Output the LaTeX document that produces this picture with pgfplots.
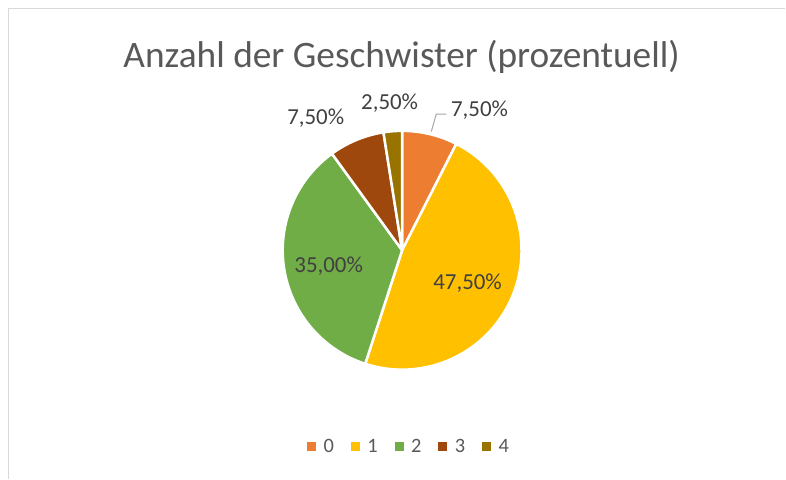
\documentclass[border=0pt]{standalone}
\usepackage{pgfplots}
\pgfplotsset{compat=1.18}
\usepackage{pgfplotstable}
\usepackage{fontspec}
\setmainfont{Carlito}
\definecolor{c0}{HTML}{ED7D31}
\definecolor{c1}{HTML}{FFC000}
\definecolor{c2}{HTML}{70AD47}
\definecolor{c3}{HTML}{9E480E}
\definecolor{c4}{HTML}{997300}
\definecolor{titlegray}{HTML}{595959}
\definecolor{labgray}{HTML}{404040}
\definecolor{framegray}{HTML}{D9D9D9}
\definecolor{leadgray}{HTML}{A6A6A6}
\pgfplotstableread{
cat value
0 7.5
1 47.5
2 35.0
3 7.5
4 2.5
}\piedata
\begin{document}
\begin{tikzpicture}
\pgfplotstablegetelem{0}{value}\of\piedata \let\vA\pgfplotsretval
\pgfplotstablegetelem{1}{value}\of\piedata \let\vB\pgfplotsretval
\pgfplotstablegetelem{2}{value}\of\piedata \let\vC\pgfplotsretval
\pgfplotstablegetelem{3}{value}\of\piedata \let\vD\pgfplotsretval
\pgfplotstablegetelem{4}{value}\of\piedata \let\vE\pgfplotsretval
\pgfmathsetmacro\aA{90}
\pgfmathsetmacro\aB{\aA-3.6*\vA}
\pgfmathsetmacro\aC{\aB-3.6*\vB}
\pgfmathsetmacro\aD{\aC-3.6*\vC}
\pgfmathsetmacro\aE{\aD-3.6*\vD}
\pgfmathsetmacro\aF{\aE-3.6*\vE}
\begin{axis}[
  x=1bp, y=1bp, xmin=0, xmax=786, ymin=0, ymax=479,
  hide axis, clip=false,
  legend image code/.code={\fill (0bp,-4bp) rectangle (8bp,4bp);},
  legend style={at={(axis cs:408.5,32)}, anchor=center, draw=none, fill=none,
    legend columns=-1, font=\fontsize{20.5}{24}\selectfont, text=titlegray,
    nodes={inner sep=0pt, font=\fontsize{20.5}{24}\selectfont},
    /tikz/every odd column/.append style={column sep=8bp},
    /tikz/every even column/.append style={column sep=17bp}},
]
\addlegendimage{c0}\addlegendentry{0}
\addlegendimage{c1}\addlegendentry{1}
\addlegendimage{c2}\addlegendentry{2}
\addlegendimage{c3}\addlegendentry{3}
\addlegendimage{c4}\addlegendentry{4}
% bounding box
\path (axis cs:0,0) rectangle (axis cs:786,479);
% frame
\draw[framegray, line width=1.5bp] (axis cs:8.5,0) -- (axis cs:8.5,470.5) -- (axis cs:786,470.5);
% slices
\filldraw[fill=c0, draw=white, line width=2.5bp, line join=round] (axis cs:402.5,228.5) -- ++(\aA:119.5bp) arc[start angle=\aA, end angle=\aB, radius=119.5bp] -- cycle;
\filldraw[fill=c1, draw=white, line width=2.5bp, line join=round] (axis cs:402.5,228.5) -- ++(\aB:119.5bp) arc[start angle=\aB, end angle=\aC, radius=119.5bp] -- cycle;
\filldraw[fill=c2, draw=white, line width=2.5bp, line join=round] (axis cs:402.5,228.5) -- ++(\aC:119.5bp) arc[start angle=\aC, end angle=\aD, radius=119.5bp] -- cycle;
\filldraw[fill=c3, draw=white, line width=2.5bp, line join=round] (axis cs:402.5,228.5) -- ++(\aD:119.5bp) arc[start angle=\aD, end angle=\aE, radius=119.5bp] -- cycle;
\filldraw[fill=c4, draw=white, line width=2.5bp, line join=round] (axis cs:402.5,228.5) -- ++(\aE:119.5bp) arc[start angle=\aE, end angle=\aF, radius=119.5bp] -- cycle;
% title
\node[anchor=base, text=titlegray, font=\fontsize{37.5}{44}\selectfont, inner sep=0] at (axis cs:402,411) {Anzahl der Geschwister (prozentuell)};
% labels
\draw[leadgray, line width=1bp] (axis cs:431.7,347.3) -- (axis cs:436.7,364.7) -- (axis cs:446.7,364.7);
\node[anchor=base, text=labgray, font=\fontsize{23}{26}\selectfont, inner sep=0] at (axis cs:480,362) {7,50\%};
\node[anchor=base, text=labgray, font=\fontsize{23}{26}\selectfont, inner sep=0] at (axis cs:468,189) {47,50\%};
\node[anchor=base, text=labgray, font=\fontsize{23}{26}\selectfont, inner sep=0] at (axis cs:329,206) {35,00\%};
\node[anchor=base, text=labgray, font=\fontsize{23}{26}\selectfont, inner sep=0] at (axis cs:316,354) {7,50\%};
\node[anchor=base, text=labgray, font=\fontsize{23}{26}\selectfont, inner sep=0] at (axis cs:390,369) {2,50\%};
\end{axis}
\end{tikzpicture}
\end{document}
